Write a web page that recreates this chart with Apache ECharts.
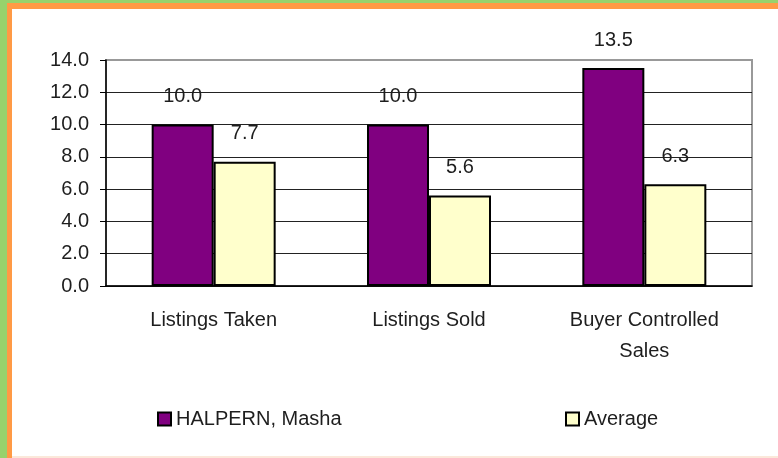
<!DOCTYPE html>
<html>
<head>
<meta charset="utf-8">
<script src="https://cdn.jsdelivr.net/npm/echarts@6/dist/echarts.min.js"></script>
<style>
  html, body { margin: 0; padding: 0; background: #fff; }
  #main { width: 778px; height: 458px; }
</style>
</head>
<body>
<div id="main"></div>
<script>
// chart data
var categories = ['Listings Taken', 'Listings Sold', 'Buyer Controlled\nSales'];
var halpernValues = [10.0, 10.0, 13.5];
var averageValues = [7.7, 5.6, 6.3];
var seriesNames = ['HALPERN, Masha', 'Average'];
var yTicks = { min: 0, max: 14, interval: 2 };

var chart = echarts.init(document.getElementById('main'));

var labelStyle = {
  show: true,
  position: 'top',
  distance: 18,
  fontFamily: 'Liberation Sans',
  fontSize: 20,
  color: '#1e1e1e',
  formatter: function (p) { return p.value.toFixed(1); }
};

chart.setOption({
  animation: false,
  textStyle: { fontFamily: 'Liberation Sans' },
  graphic: [
    // frame strips round the picture
    { type: 'rect', shape: { x: 0, y: 0, width: 7, height: 458 }, style: { fill: '#97d26c' } },
    { type: 'rect', shape: { x: 0, y: 0, width: 778, height: 3 }, style: { fill: '#97d26c' } },
    { type: 'rect', shape: { x: 7, y: 3, width: 5, height: 455 }, style: { fill: '#ff9a45' } },
    { type: 'rect', shape: { x: 7, y: 3, width: 771, height: 6 }, style: { fill: '#ff9a45' } },
    { type: 'rect', shape: { x: 12, y: 456, width: 766, height: 2 }, style: { fill: '#fbe8da' } }
  ],
  grid: {
    left: 106,
    right: 26,
    top: 60,
    bottom: 172,
    show: true,
    borderColor: '#999',
    borderWidth: 2
  },
  legend: [
    {
      data: [seriesNames[0]],
      left: 152,
      top: 404,
      icon: 'rect',
      itemWidth: 13,
      itemHeight: 13,
      itemGap: 0,
      textStyle: { fontSize: 20, color: '#1e1e1e', fontFamily: 'Liberation Sans' }
    },
    {
      data: [seriesNames[1]],
      left: 560,
      top: 404,
      icon: 'rect',
      itemWidth: 13,
      itemHeight: 13,
      itemGap: 0,
      textStyle: { fontSize: 20, color: '#1e1e1e', fontFamily: 'Liberation Sans' }
    }
  ],
  xAxis: {
    type: 'category',
    data: categories,
    axisTick: { show: false },
    axisLine: { lineStyle: { color: '#000', width: 1.5 } },
    axisLabel: {
      fontSize: 20,
      color: '#1e1e1e',
      margin: 19,
      lineHeight: 31,
      interval: 0
    }
  },
  yAxis: {
    type: 'value',
    min: yTicks.min,
    max: yTicks.max,
    interval: yTicks.interval,
    axisLine: { show: true, lineStyle: { color: '#000', width: 1.5 } },
    axisTick: { show: true, length: 6, lineStyle: { color: '#000' } },
    axisLabel: {
      fontSize: 20,
      color: '#1e1e1e',
      margin: 17,
      formatter: function (v) { return v.toFixed(1); }
    },
    splitLine: {
      lineStyle: {
        color: ['#222', '#222', '#222', '#222', '#222', '#222', '#222', '#999'],
        width: 1
      }
    }
  },
  series: [
    {
      name: seriesNames[0],
      type: 'bar',
      data: halpernValues,
      barWidth: 62,
      barGap: '0%',
      itemStyle: { color: '#800080', borderColor: '#000', borderWidth: 2 },
      label: labelStyle
    },
    {
      name: seriesNames[1],
      type: 'bar',
      data: averageValues,
      barWidth: 62,
      itemStyle: { color: '#ffffcc', borderColor: '#000', borderWidth: 2 },
      label: labelStyle
    }
  ]
});
</script>
</body>
</html>
